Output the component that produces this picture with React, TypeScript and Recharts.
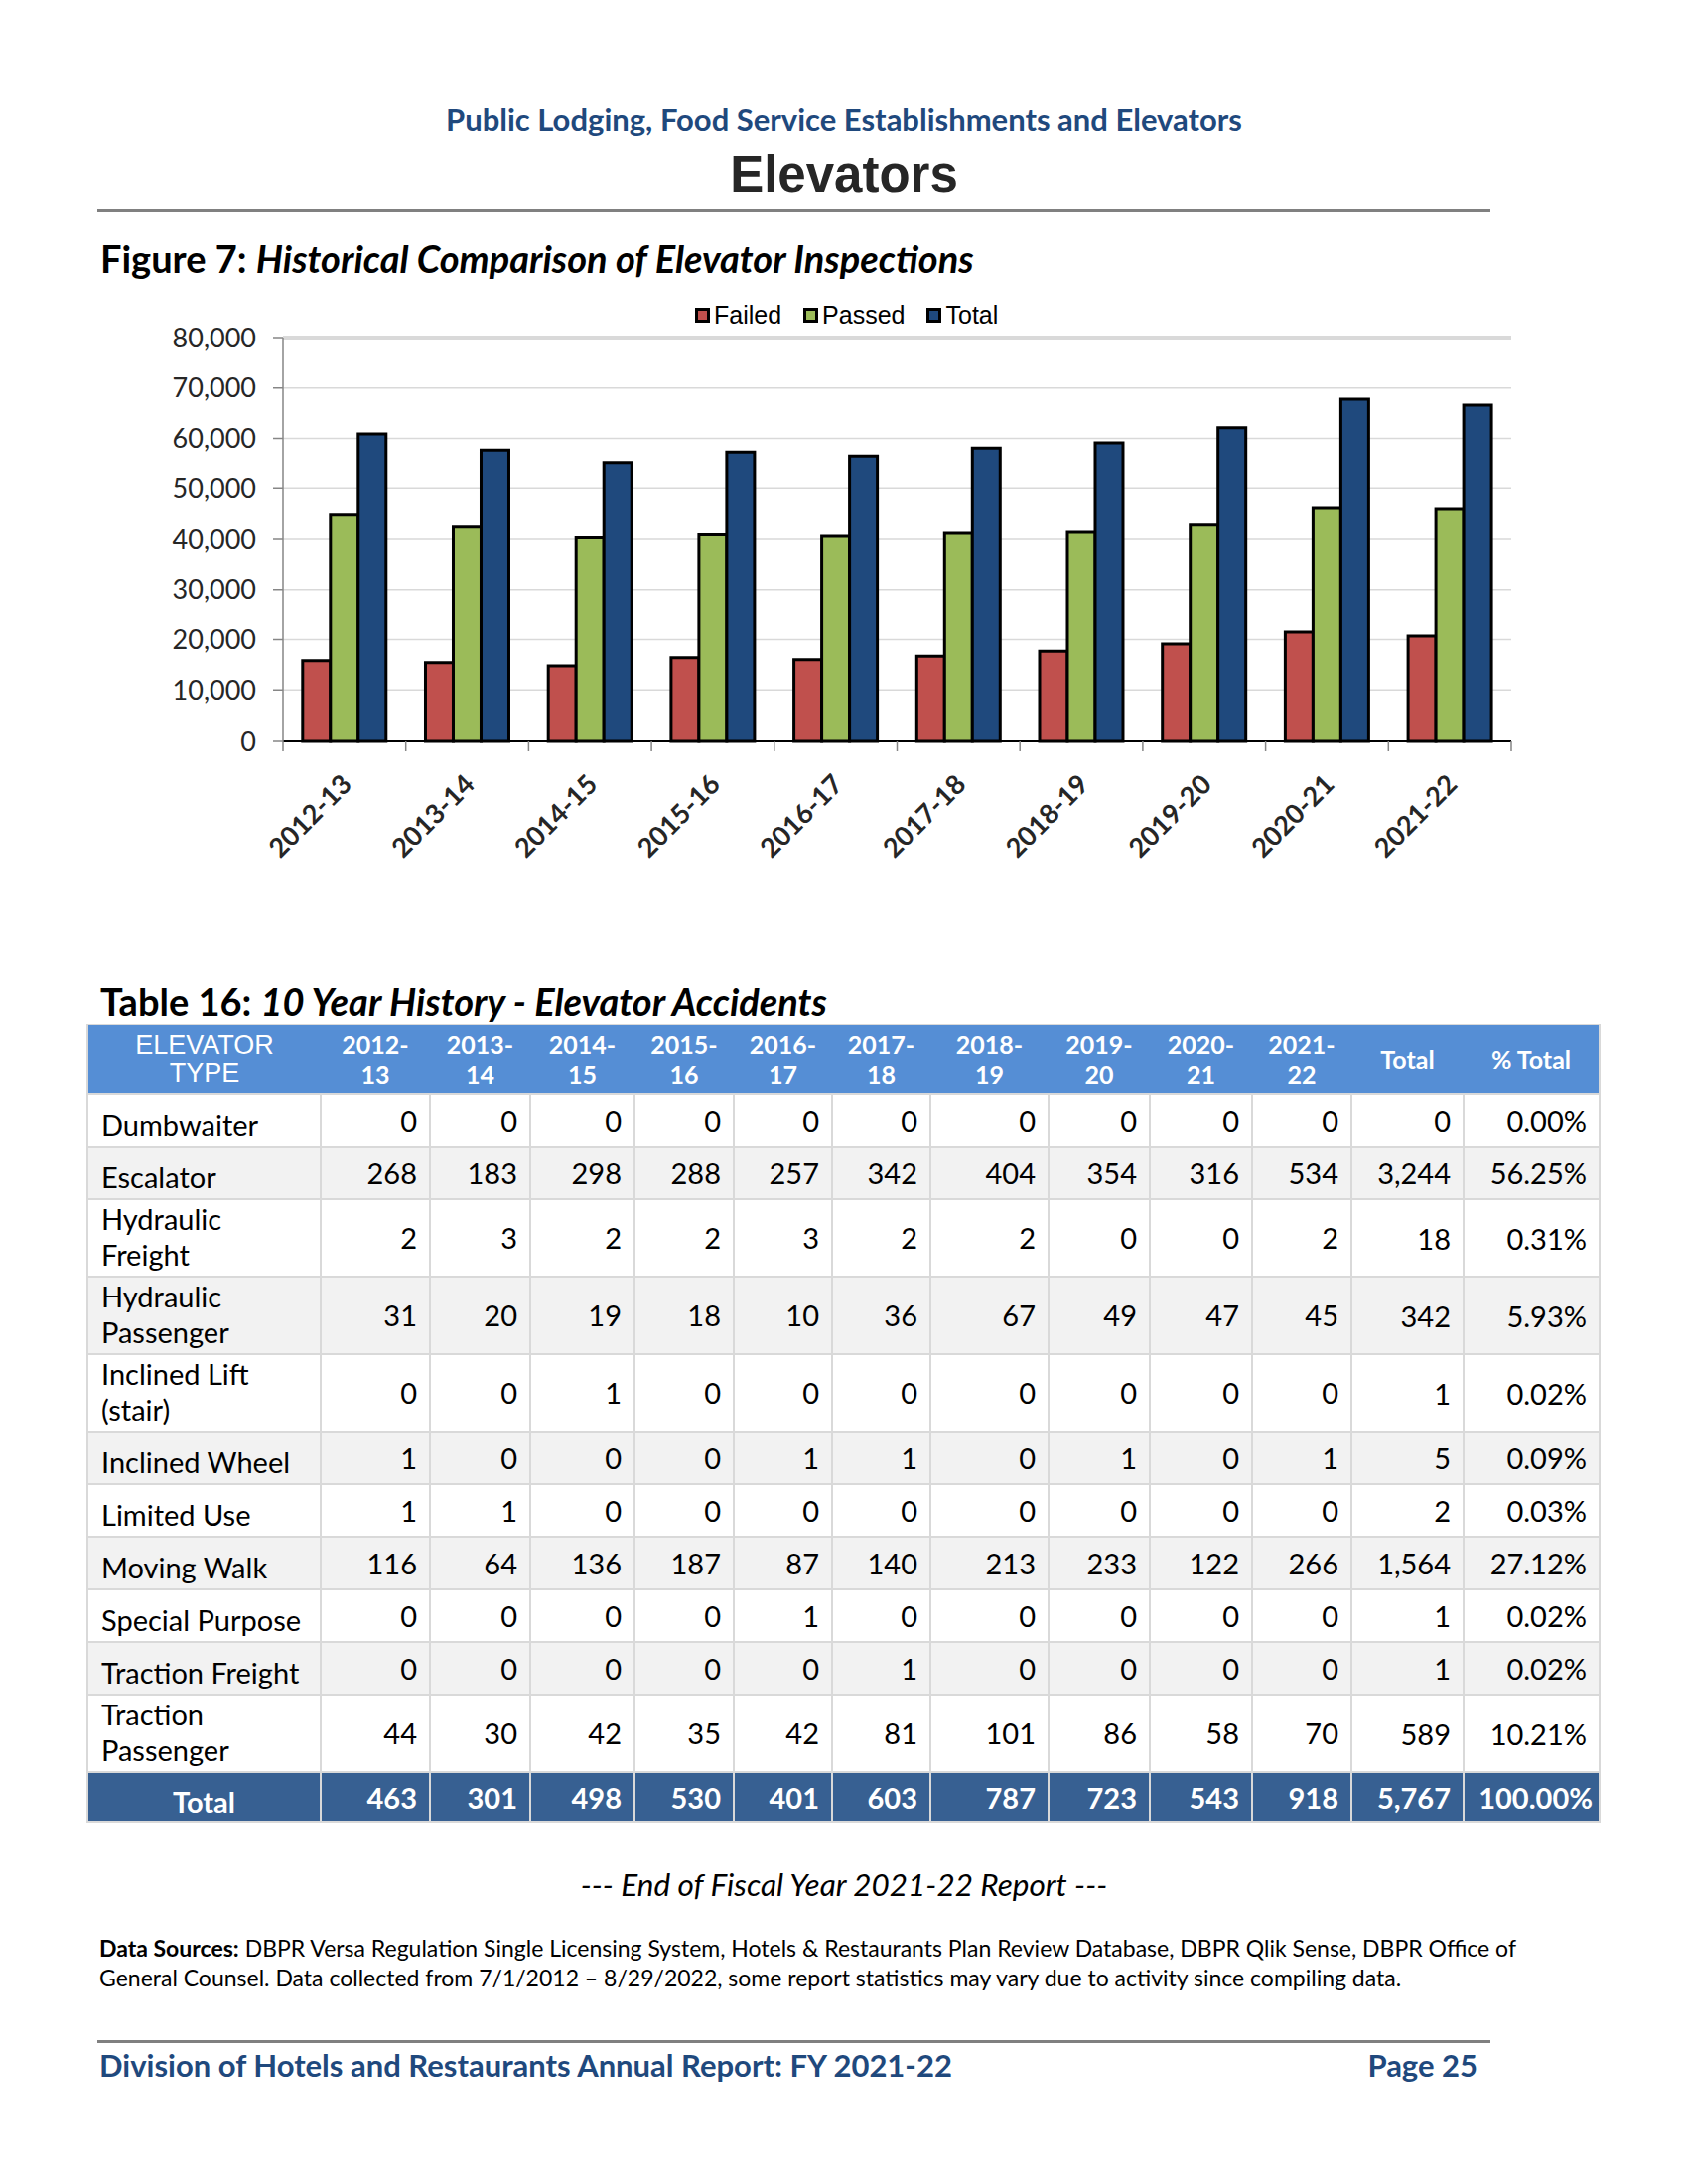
import React from 'react';
import { BarChart, Bar, XAxis, YAxis, CartesianGrid, Legend, ReferenceLine } from 'recharts';

// ---------- Chart data ----------
const years = ['2012-13', '2013-14', '2014-15', '2015-16', '2016-17', '2017-18', '2018-19', '2019-20', '2020-21', '2021-22'];
const failed = [15800, 15400, 14800, 16400, 16000, 16700, 17700, 19100, 21500, 20700];
const passed = [44800, 42400, 40300, 40900, 40600, 41200, 41400, 42800, 46100, 45900];
const total = [60900, 57700, 55200, 57300, 56500, 58100, 59100, 62100, 67800, 66600];
const yTicks = [0, 10000, 20000, 30000, 40000, 50000, 60000, 70000, 80000];
const seriesKeys = ['Failed', 'Passed', 'Total'];
const seriesColors = ['#C0504D', '#9BBB59', '#1F497D'];

// ---------- Table data ----------
const tableYearHeads = [['2012-', '13'], ['2013-', '14'], ['2014-', '15'], ['2015-', '16'], ['2016-', '17'], ['2017-', '18'], ['2018-', '19'], ['2019-', '20'], ['2020-', '21'], ['2021-', '22']];
const elevatorTypes = [
  ['Dumbwaiter'],
  ['Escalator'],
  ['Hydraulic', 'Freight'],
  ['Hydraulic', 'Passenger'],
  ['Inclined Lift', '(stair)'],
  ['Inclined Wheel'],
  ['Limited Use'],
  ['Moving Walk'],
  ['Special Purpose'],
  ['Traction Freight'],
  ['Traction', 'Passenger'],
];
const dumbwaiter = [0, 0, 0, 0, 0, 0, 0, 0, 0, 0];
const escalator = [268, 183, 298, 288, 257, 342, 404, 354, 316, 534];
const hydraulicFreight = [2, 3, 2, 2, 3, 2, 2, 0, 0, 2];
const hydraulicPassenger = [31, 20, 19, 18, 10, 36, 67, 49, 47, 45];
const inclinedLift = [0, 0, 1, 0, 0, 0, 0, 0, 0, 0];
const inclinedWheel = [1, 0, 0, 0, 1, 1, 0, 1, 0, 1];
const limitedUse = [1, 1, 0, 0, 0, 0, 0, 0, 0, 0];
const movingWalk = [116, 64, 136, 187, 87, 140, 213, 233, 122, 266];
const specialPurpose = [0, 0, 0, 0, 1, 0, 0, 0, 0, 0];
const tractionFreight = [0, 0, 0, 0, 0, 1, 0, 0, 0, 0];
const tractionPassenger = [44, 30, 42, 35, 42, 81, 101, 86, 58, 70];
const rowTotals = ['0', '3,244', '18', '342', '1', '5', '2', '1,564', '1', '1', '589'];
const rowPercents = ['0.00%', '56.25%', '0.31%', '5.93%', '0.02%', '0.09%', '0.03%', '27.12%', '0.02%', '0.02%', '10.21%'];
const columnTotals = [463, 301, 498, 530, 401, 603, 787, 723, 543, 918];
const grandTotal = '5,767';
const grandPercent = '100.00%';

const tableRows = [dumbwaiter, escalator, hydraulicFreight, hydraulicPassenger, inclinedLift, inclinedWheel, limitedUse, movingWalk, specialPurpose, tractionFreight, tractionPassenger];

const chartData = years.map((y, i) => ({ year: y, Failed: failed[i], Passed: passed[i], Total: total[i] }));

// ---------- Layout constants ----------
const BLUE_TEXT = '#1F497D';
const CAL = 'Lato, "Open Sans", sans-serif';
const ARIAL = '"Liberation Sans", Arial, sans-serif';
const PLOT_W = 1237;
const colWidths = [235, 110, 101, 105, 100, 99, 99, 119, 102, 103, 100, 113, 137];

const XTick = (props: any) => {
  const { x, y, payload, index } = props;
  const band = PLOT_W / years.length;
  const left = x - band / 2;
  const right = x + band / 2;
  const ax = x + 9;
  const ay = y + 46;
  return (
    <g>
      <line x1={left} y1={y} x2={left} y2={y + 10} stroke="#868686" strokeWidth={1.5} />
      {index === years.length - 1 && <line x1={right} y1={y} x2={right} y2={y + 10} stroke="#868686" strokeWidth={1.5} />}
      <text
        x={ax}
        y={ay}
        transform={`rotate(-45 ${ax} ${ay})`}
        textAnchor="end"
        fontFamily={CAL}
        fontWeight={700}
        fontSize={27}
        fill="#262626"
      >
        {payload.value}
      </text>
    </g>
  );
};

const LegendContent = () => (
  <div style={{ display: 'flex', alignItems: 'center', fontFamily: ARIAL, fontSize: 25, color: '#000', lineHeight: '29px' }}>
    {seriesKeys.map((k, i) => (
      <div key={k} style={{ display: 'flex', alignItems: 'center', marginRight: 22 }}>
        <span style={{ display: 'inline-block', width: 15, height: 15, boxSizing: 'border-box', border: '3px solid #000', background: seriesColors[i], marginRight: 4 }} />
        <span>{k}</span>
      </div>
    ))}
  </div>
);

const abs = (left: number, top: number, extra: React.CSSProperties = {}): React.CSSProperties => ({
  position: 'absolute', left, top, whiteSpace: 'nowrap', lineHeight: 1, ...extra,
});

const Chart = () => (
  <div style={{ position: 'absolute', left: 0, top: 280 }}>
    <BarChart
      width={1700}
      height={600}
      data={chartData}
      margin={{ top: 60, right: 178, bottom: 10, left: 185 }}
      barGap={0}
      barCategoryGap="16%"
    >
      <CartesianGrid vertical={false} stroke="#D9D9D9" strokeWidth={1.5} />
      <XAxis
        dataKey="year"
        height={124}
        tickSize={0}
        tickMargin={0}
        tickLine={false}
        interval={0}
        axisLine={{ stroke: '#000', strokeWidth: 2 }}
        tick={<XTick />}
      />
      <YAxis
        width={100}
        domain={[0, 80000]}
        ticks={yTicks}
        interval={0}
        tickSize={10}
        tickMargin={17}
        tickLine={{ stroke: '#868686', strokeWidth: 1.5 }}
        axisLine={{ stroke: '#868686', strokeWidth: 1.5 }}
        tickFormatter={(v: number) => v.toLocaleString('en-US')}
        tick={{ fill: '#262626', fontSize: 27, fontFamily: CAL }}
      />
      <YAxis yAxisId="frame" orientation="right" width={0} domain={[0, 80000]} tick={false} tickLine={false} axisLine={{ stroke: '#D9D9D9', strokeWidth: 3 }} />
      <ReferenceLine y={80000} stroke="#D9D9D9" strokeWidth={4} />
      <Legend
        layout="horizontal"
        verticalAlign="middle"
        align="center"
        content={<LegendContent />}
        wrapperStyle={{ left: 700, top: 23, width: 'auto', height: 29 }}
      />
      {seriesKeys.map((k, i) => (
        <Bar key={k} dataKey={k} fill={seriesColors[i]} stroke="#000" strokeWidth={3} isAnimationActive={false} />
      ))}
    </BarChart>
  </div>
);

const cellBorder = '2px solid #D9D9D9';

const Table = () => {
  const rowHeights = elevatorTypes.map((l) => (l.length > 1 ? 77 : 53));
  return (
    <table
      style={{
        position: 'absolute', left: 87, top: 1031, width: 1523, tableLayout: 'fixed', borderCollapse: 'collapse',
        fontFamily: CAL, fontSize: 29, color: '#000',
      }}
    >
      <colgroup>
        {colWidths.map((w, i) => <col key={i} style={{ width: w }} />)}
      </colgroup>
      <thead>
        <tr style={{ height: 70, background: '#558ED5', color: '#fff' }}>
          <th style={{ fontFamily: ARIAL, fontWeight: 400, fontSize: 27, lineHeight: '28px', textAlign: 'center', borderTop: cellBorder, borderLeft: cellBorder, padding: 0 }}>
            ELEVATOR<br />TYPE
          </th>
          {tableYearHeads.map((h, i) => (
            <th key={i} style={{ fontWeight: 700, fontSize: 25, lineHeight: '30px', textAlign: 'center', borderTop: cellBorder, padding: 0 }}>
              {h[0]}<br />{h[1]}
            </th>
          ))}
          <th style={{ fontWeight: 700, fontSize: 25, textAlign: 'center', borderTop: cellBorder, padding: 0 }}>Total</th>
          <th style={{ fontWeight: 700, fontSize: 25, textAlign: 'center', borderTop: cellBorder, borderRight: cellBorder, padding: 0 }}>% Total</th>
        </tr>
      </thead>
      <tbody>
        {tableRows.map((vals, r) => (
          <tr key={r} style={{ height: rowHeights[r], background: r % 2 === 1 ? '#F2F2F2' : '#FFFFFF' }}>
            <td style={{ border: cellBorder, paddingLeft: 13, paddingBottom: 3, verticalAlign: 'bottom', lineHeight: '36px', whiteSpace: 'nowrap' }}>
              {elevatorTypes[r].map((t, j) => <div key={j}>{t}</div>)}
            </td>
            {vals.map((v, c) => (
              <td key={c} style={{ border: cellBorder, textAlign: 'right', paddingRight: 12, verticalAlign: 'middle', lineHeight: '34px' }}>{v}</td>
            ))}
            <td style={{ border: cellBorder, textAlign: 'right', paddingRight: 12, verticalAlign: 'middle' }}>{rowTotals[r]}</td>
            <td style={{ border: cellBorder, textAlign: 'right', paddingRight: 12, verticalAlign: 'middle' }}>{rowPercents[r]}</td>
          </tr>
        ))}
        <tr style={{ height: 50, background: '#376092', color: '#fff', fontWeight: 700 }}>
          <td style={{ border: cellBorder, textAlign: 'center', verticalAlign: 'bottom', paddingBottom: 2 }}>Total</td>
          {columnTotals.map((v, c) => (
            <td key={c} style={{ border: cellBorder, textAlign: 'right', paddingRight: 12 }}>{v}</td>
          ))}
          <td style={{ border: cellBorder, textAlign: 'right', paddingRight: 12 }}>{grandTotal}</td>
          <td style={{ border: cellBorder, textAlign: 'right', paddingRight: 6 }}>{grandPercent}</td>
        </tr>
      </tbody>
    </table>
  );
};

export default function App() {
  return (
    <div style={{ position: 'absolute', left: 0, top: 0, width: 1700, height: 2200, background: '#fff', fontFamily: CAL, color: '#000' }}>
      <div style={abs(0, 105, { width: 1700, textAlign: 'center', fontSize: 31, fontWeight: 700, color: BLUE_TEXT })}>
        Public Lodging, Food Service Establishments and Elevators
      </div>
      <div style={abs(0, 149.5, { width: 1700, textAlign: 'center', fontSize: 51, fontWeight: 700, fontFamily: ARIAL, color: '#262626' })}>
        Elevators
      </div>
      <div style={{ position: 'absolute', left: 98, top: 211, width: 1403, height: 3, background: '#808080' }} />

      <div style={abs(101, 240.5, { fontSize: 38, fontWeight: 700 })}>
        Figure 7: <i>Historical Comparison of Elevator Inspections</i>
      </div>

      <Chart />

      <div style={abs(101, 988.5, { fontSize: 38, fontWeight: 700 })}>
        Table 16: <i>10 Year History - Elevator Accidents</i>
      </div>

      <Table />

      <div style={abs(0, 1883, { width: 1700, textAlign: 'center', fontSize: 31.5, fontStyle: 'italic' })}>
        --- End of Fiscal Year 2021-22 Report ---
      </div>

      <div style={{ position: 'absolute', left: 100, top: 1947, width: 1500, fontSize: 23, lineHeight: '30px', whiteSpace: 'nowrap' }}>
        <b>Data Sources:</b> DBPR Versa Regulation Single Licensing System, Hotels &amp; Restaurants Plan Review Database, DBPR Qlik Sense, DBPR Office of
        <br />
        General Counsel. Data collected from 7/1/2012 – 8/29/2022, some report statistics may vary due to activity since compiling data.
      </div>

      <div style={{ position: 'absolute', left: 98, top: 2055, width: 1403, height: 3, background: '#808080' }} />
      <div style={abs(100, 2065, { fontSize: 31, fontWeight: 700, color: BLUE_TEXT })}>
        Division of Hotels and Restaurants Annual Report: FY 2021-22
      </div>
      <div style={abs(1288, 2065, { width: 200, textAlign: 'right', fontSize: 31, fontWeight: 700, color: BLUE_TEXT })}>
        Page 25
      </div>
    </div>
  );
}
